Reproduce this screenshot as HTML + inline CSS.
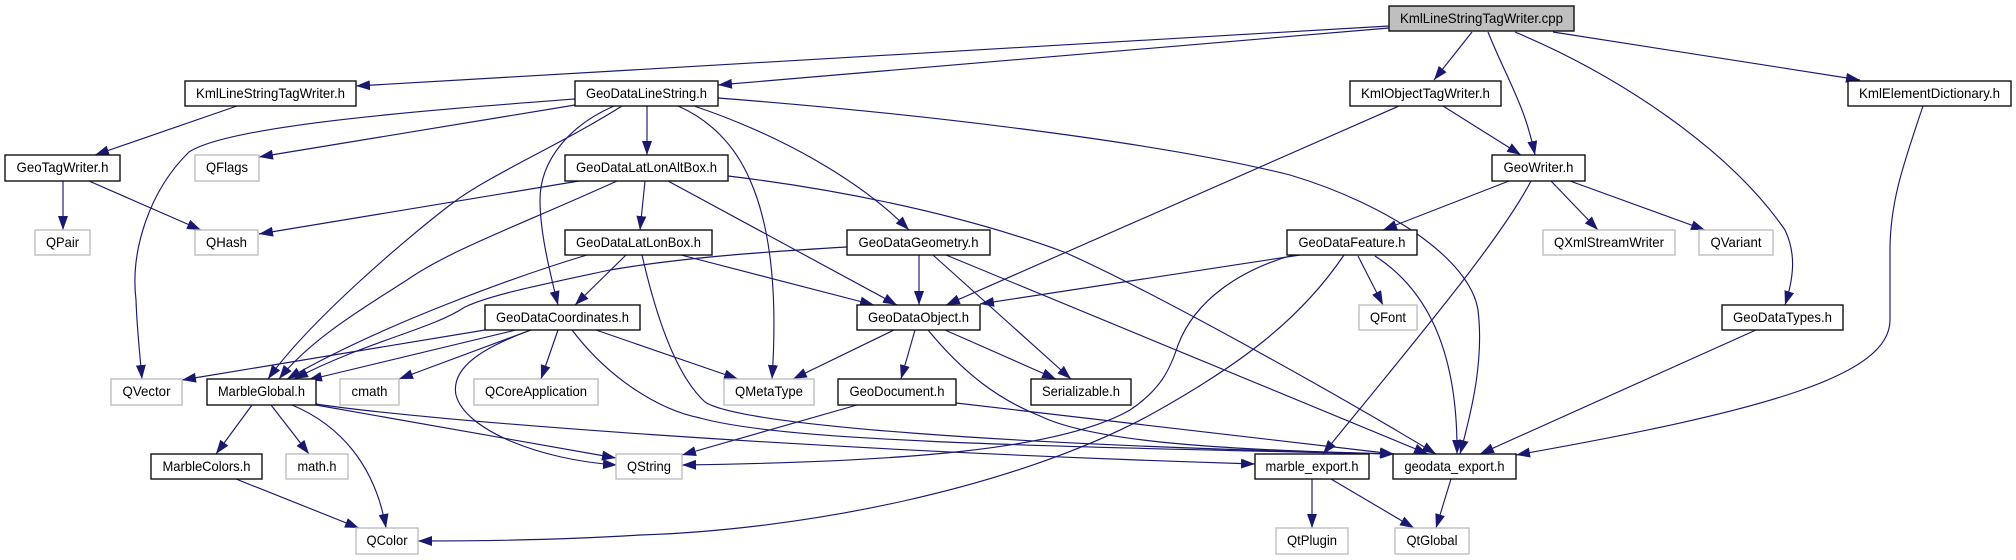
<!DOCTYPE html>
<html><head><meta charset="utf-8"><title>KmlLineStringTagWriter.cpp</title>
<style>
html,body{margin:0;padding:0;background:#fff;width:2016px;height:560px;overflow:hidden}
svg{display:block}
text{font-family:"Liberation Sans",sans-serif;font-size:13.8px;text-anchor:middle;fill:#000}
.e path{fill:none;stroke:#191970;stroke-width:1.15;marker-end:url(#a)}
.b rect{fill:#fff;stroke:#111;stroke-width:1.4}
.g rect{fill:#fff;stroke:#bfbfbf;stroke-width:1.4}
</style></head><body>
<svg xmlns="http://www.w3.org/2000/svg" width="2016" height="560" viewBox="0 0 2016 560">
<defs><marker id="a" markerWidth="15" markerHeight="10" refX="14" refY="5" orient="auto" markerUnits="userSpaceOnUse"><polygon points="0,0 14,5 0,10" fill="#191970"/></marker></defs>
<rect width="2016" height="560" fill="#fff"/>
<g class="e">
<path d="M1389,26 L356,86"/>
<path d="M1389,28 L718,85"/>
<path d="M1472,32 L1434,80"/>
<path d="M1488,32 C1505,75 1525,105 1535,155"/>
<path d="M1515,32 C1620,76 1730,150 1785,230 C1797,255 1793,280 1785,305"/>
<path d="M1553,32 L1860,80"/>
<path d="M237,106 L95,155"/>
<path d="M63,181 L63,230"/>
<path d="M89,181 L201,230"/>
<path d="M575,99 C430,110 230,125 189,152 C150,190 130,250 136,300 C137,330 140,355 142,379"/>
<path d="M575,105 L259,157"/>
<path d="M622,106 C560,145 490,175 454,202 C410,235 310,320 268,379"/>
<path d="M614,106 C570,125 540,160 540,200 C540,230 548,265 558,305"/>
<path d="M647,106 L647,155"/>
<path d="M678,106 C710,120 735,145 750,180 C770,225 778,290 772,379"/>
<path d="M694,106 C780,135 860,180 909,230"/>
<path d="M718,98 C900,112 1150,140 1290,175 C1390,205 1470,260 1478,310 C1484,360 1472,410 1460,454"/>
<path d="M579,181 L259,234"/>
<path d="M617,181 C520,225 450,250 407,280 C360,310 310,340 279,379"/>
<path d="M645,181 L640,230"/>
<path d="M668,181 L897,305"/>
<path d="M728,176 C820,187 950,210 1064,252 C1150,290 1330,390 1436,454"/>
<path d="M946,255 L1428,454"/>
<path d="M587,255 C520,275 380,325 287,379"/>
<path d="M626,255 L575,305"/>
<path d="M681,255 L874,305"/>
<path d="M642,255 C650,290 670,370 705,402 C740,425 1000,445 1394,454"/>
<path d="M485,330 L182,380"/>
<path d="M516,330 L308,380"/>
<path d="M531,330 L399,379"/>
<path d="M558,330 L541,379"/>
<path d="M531,330 C490,345 450,365 456,395 C465,430 540,460 617,465"/>
<path d="M596,330 L738,379"/>
<path d="M572,330 C610,380 660,410 700,418 C780,440 1000,446 1394,454"/>
<path d="M252,405 L216,454"/>
<path d="M271,405 L309,454"/>
<path d="M292,405 C340,425 375,465 386,528"/>
<path d="M316,405 L616,458"/>
<path d="M316,404 C420,420 800,450 1255,464"/>
<path d="M236,479 L359,528"/>
<path d="M894,330 L793,379"/>
<path d="M915,330 L901,379"/>
<path d="M945,330 L1056,379"/>
<path d="M928,330 C965,375 1000,400 1040,416 C1100,445 1250,450 1394,454"/>
<path d="M919,255 L919,305"/>
<path d="M933,255 L1071,379"/>
<path d="M847,247 C760,252 680,258 610,270 C540,285 490,295 465,307 C430,330 370,340 294,379"/>
<path d="M857,405 L682,455"/>
<path d="M956,403 L1394,454"/>
<path d="M1300,255 L980,304"/>
<path d="M1358,256 L1383,305"/>
<path d="M1375,256 C1420,285 1458,340 1457,454"/>
<path d="M1293,255 C1240,270 1195,300 1178,345 C1170,370 1160,390 1130,410 C1060,450 900,462 682,465"/>
<path d="M1344,255 C1300,320 1240,365 1150,415 C1010,490 800,530 640,535 C560,540 480,541 418,541"/>
<path d="M1399,106 L946,305"/>
<path d="M1443,106 L1521,155"/>
<path d="M1509,181 L1383,230"/>
<path d="M1531,181 C1500,240 1420,335 1323,454"/>
<path d="M1551,181 L1598,230"/>
<path d="M1570,181 L1705,230"/>
<path d="M1756,330 L1480,454"/>
<path d="M1923,106 C1905,160 1890,200 1890,250 L1890,320 C1890,375 1770,410 1516,455"/>
<path d="M1312,479 L1312,528"/>
<path d="M1331,479 L1414,528"/>
<path d="M1451,479 L1436,528"/>
</g>
<g class="b">
<rect x="1389" y="6" width="185" height="25" style="fill:#bfbfbf"/><text x="1481.5" y="23" textLength="163" lengthAdjust="spacingAndGlyphs">KmlLineStringTagWriter.cpp</text>
<rect x="185" y="81" width="171" height="25"/><text x="270.5" y="98" textLength="149" lengthAdjust="spacingAndGlyphs">KmlLineStringTagWriter.h</text>
<rect x="575" y="81" width="143" height="25"/><text x="646.5" y="98" textLength="121" lengthAdjust="spacingAndGlyphs">GeoDataLineString.h</text>
<rect x="1350" y="81" width="151" height="25"/><text x="1425.5" y="98" textLength="129" lengthAdjust="spacingAndGlyphs">KmlObjectTagWriter.h</text>
<rect x="1848" y="81" width="163" height="25"/><text x="1929.5" y="98" textLength="141" lengthAdjust="spacingAndGlyphs">KmlElementDictionary.h</text>
<rect x="5" y="155" width="115" height="26"/><text x="62.5" y="172" textLength="92" lengthAdjust="spacingAndGlyphs">GeoTagWriter.h</text>
<rect x="565" y="155" width="163" height="26"/><text x="646.5" y="172" textLength="141" lengthAdjust="spacingAndGlyphs">GeoDataLatLonAltBox.h</text>
<rect x="1492" y="155" width="93" height="26"/><text x="1538.5" y="172" textLength="70" lengthAdjust="spacingAndGlyphs">GeoWriter.h</text>
<rect x="565" y="230" width="147" height="25"/><text x="638.5" y="247" textLength="125" lengthAdjust="spacingAndGlyphs">GeoDataLatLonBox.h</text>
<rect x="847" y="230" width="143" height="25"/><text x="918.5" y="247" textLength="120" lengthAdjust="spacingAndGlyphs">GeoDataGeometry.h</text>
<rect x="1287" y="230" width="130" height="25"/><text x="1352" y="247" textLength="107" lengthAdjust="spacingAndGlyphs">GeoDataFeature.h</text>
<rect x="485" y="305" width="155" height="25"/><text x="562.5" y="322" textLength="133" lengthAdjust="spacingAndGlyphs">GeoDataCoordinates.h</text>
<rect x="857" y="305" width="123" height="25"/><text x="918.5" y="322" textLength="101" lengthAdjust="spacingAndGlyphs">GeoDataObject.h</text>
<rect x="1722" y="305" width="121" height="25"/><text x="1782.5" y="322" textLength="99" lengthAdjust="spacingAndGlyphs">GeoDataTypes.h</text>
<rect x="207" y="379" width="109" height="26"/><text x="261.5" y="396" textLength="87" lengthAdjust="spacingAndGlyphs">MarbleGlobal.h</text>
<rect x="838" y="379" width="118" height="26"/><text x="897" y="396" textLength="95" lengthAdjust="spacingAndGlyphs">GeoDocument.h</text>
<rect x="1031" y="379" width="100" height="26"/><text x="1081" y="396" textLength="78" lengthAdjust="spacingAndGlyphs">Serializable.h</text>
<rect x="151" y="454" width="111" height="25"/><text x="206.5" y="471" textLength="88" lengthAdjust="spacingAndGlyphs">MarbleColors.h</text>
<rect x="1255" y="454" width="114" height="25"/><text x="1312" y="471" textLength="93" lengthAdjust="spacingAndGlyphs">marble_export.h</text>
<rect x="1393" y="454" width="123" height="25"/><text x="1454.5" y="471" textLength="100" lengthAdjust="spacingAndGlyphs">geodata_export.h</text>
</g>
<g class="g">
<rect x="195" y="155" width="64" height="26"/><text x="227" y="172" textLength="42" lengthAdjust="spacingAndGlyphs">QFlags</text>
<rect x="35" y="230" width="55" height="25"/><text x="62.5" y="247" textLength="33" lengthAdjust="spacingAndGlyphs">QPair</text>
<rect x="195" y="230" width="63" height="25"/><text x="226.5" y="247" textLength="41" lengthAdjust="spacingAndGlyphs">QHash</text>
<rect x="1543" y="230" width="132" height="25"/><text x="1609" y="247" textLength="110" lengthAdjust="spacingAndGlyphs">QXmlStreamWriter</text>
<rect x="1699" y="230" width="74" height="25"/><text x="1736" y="247" textLength="51" lengthAdjust="spacingAndGlyphs">QVariant</text>
<rect x="1359" y="305" width="58" height="25"/><text x="1388" y="322" textLength="36" lengthAdjust="spacingAndGlyphs">QFont</text>
<rect x="111" y="379" width="71" height="26"/><text x="146.5" y="396" textLength="48" lengthAdjust="spacingAndGlyphs">QVector</text>
<rect x="340" y="379" width="59" height="26"/><text x="369.5" y="396" textLength="36" lengthAdjust="spacingAndGlyphs">cmath</text>
<rect x="474" y="379" width="124" height="26"/><text x="536" y="396" textLength="102" lengthAdjust="spacingAndGlyphs">QCoreApplication</text>
<rect x="724" y="379" width="90" height="26"/><text x="769" y="396" textLength="68" lengthAdjust="spacingAndGlyphs">QMetaType</text>
<rect x="286" y="454" width="62" height="25"/><text x="317" y="471" textLength="39" lengthAdjust="spacingAndGlyphs">math.h</text>
<rect x="616" y="454" width="66" height="25"/><text x="649" y="471" textLength="44" lengthAdjust="spacingAndGlyphs">QString</text>
<rect x="356" y="528" width="62" height="26"/><text x="387" y="545" textLength="41" lengthAdjust="spacingAndGlyphs">QColor</text>
<rect x="1276" y="528" width="72" height="26"/><text x="1312" y="545" textLength="50" lengthAdjust="spacingAndGlyphs">QtPlugin</text>
<rect x="1395" y="528" width="74" height="26"/><text x="1432" y="545" textLength="51" lengthAdjust="spacingAndGlyphs">QtGlobal</text>
</g>
</svg>
</body></html>
